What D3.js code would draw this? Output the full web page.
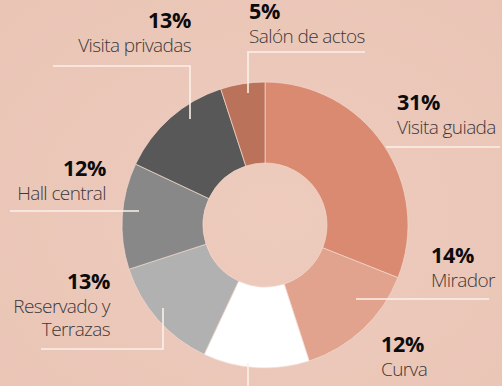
<!DOCTYPE html>
<html>
<head>
<meta charset="utf-8">
<script src="https://cdn.jsdelivr.net/npm/d3@7"></script>
<style>
  html, body { margin: 0; padding: 0; background: #ecc9ba; }
  svg { display: block; }
  .pct { font-family: "Open Sans", sans-serif; font-weight: 700; fill: #0c0c0c; }
  .lbl { font-family: "Open Sans", sans-serif; font-weight: 300; fill: #3e3838; }
</style>
</head>
<body>
<svg id="chart" width="502" height="386"></svg>
<script>
// Share of visits by area (percent), clockwise from 12 o'clock
const categories = ["Visita guiada", "Mirador", "Curva", "Reservado y Terrazas", "Hall central", "Visita privadas", "Salón de actos"];
const values = [31, 14, 12, 13, 12, 13, 5];
const sliceColors = ["#d98a71", "#e2a38e", "#ffffff", "#b1b1b1", "#888888", "#585858", "#bb725a"];

// Label text lines (the category name may wrap)
const labelLines = [["Visita guiada"], ["Mirador"], ["Curva"], ["Reservado y", "Terrazas"], ["Hall central"], ["Visita privadas"], ["Salón de actos"]];

// Label placement: anchor x, baseline of the percentage, text anchor
const labelLayout = [
  { x: 397, y: 110, anchor: "start" },
  { x: 431, y: 263, anchor: "start" },
  { x: 381, y: 352, anchor: "start" },
  { x: 110, y: 289, anchor: "end" },
  { x: 106, y: 176, anchor: "end" },
  { x: 191, y: 28,  anchor: "end" },
  { x: 249, y: 19,  anchor: "start" }
];

// Leader lines for each label
const leaders = [
  [[386, 147], [500, 147]],
  [[356, 299], [489, 299]],
  [[248, 363], [248, 390]],
  [[41, 349], [163, 349], [163, 308]],
  [[10, 211], [139, 211]],
  [[53, 66], [190, 66], [190, 119]],
  [[248, 93], [248, 52], [365, 52]]
];

const svg = d3.select("#chart");
const W = 502, H = 386;
const cx = 265, cy = 225, rOuter = 143, rInner = 62;

// Soft background wash
const defs = svg.append("defs");
const bg = defs.append("radialGradient").attr("id", "bg").attr("cx", "55%").attr("cy", "55%").attr("r", "75%");
bg.append("stop").attr("offset", "0%").attr("stop-color", "#edcbbd");
bg.append("stop").attr("offset", "100%").attr("stop-color", "#eac5b6");
svg.append("rect").attr("width", W).attr("height", H).attr("fill", "url(#bg)");

const pie = d3.pie().sort(null).value(d => d.value);
const arc = d3.arc().innerRadius(rInner).outerRadius(rOuter);
const data = categories.map((c, i) => ({ name: c, value: values[i], color: sliceColors[i] }));

const g = svg.append("g").attr("transform", `translate(${cx},${cy})`);
g.selectAll("path")
  .data(pie(data))
  .join("path")
  .attr("d", arc)
  .attr("fill", d => d.data.color)
  .attr("stroke", "#f2d8cd")
  .attr("stroke-width", 0.7);

// Leader lines
const line = d3.line();
svg.append("g").selectAll("path")
  .data(leaders)
  .join("path")
  .attr("d", d => line(d))
  .attr("fill", "none")
  .attr("stroke", "#fbf0ea")
  .attr("stroke-width", 1.6);

// Labels
const labels = svg.append("g").selectAll("g")
  .data(data)
  .join("g");

labels.append("text")
  .attr("class", "pct")
  .attr("x", (d, i) => labelLayout[i].x)
  .attr("y", (d, i) => labelLayout[i].y)
  .attr("text-anchor", (d, i) => labelLayout[i].anchor)
  .attr("font-size", 21.5)
  .attr("letter-spacing", -0.3)
  .text(d => `${d.value}%`);

// Category names: one text element per label, wrapped lines as tspans
labels.append("text")
  .attr("class", "lbl")
  .attr("text-anchor", (d, i) => labelLayout[i].anchor)
  .attr("font-size", 19)
  .attr("letter-spacing", -0.6)
  .each(function (d, i) {
    const L = labelLayout[i];
    labelLines[i].forEach((t, k) => {
      d3.select(this).append("tspan")
        .attr("x", L.x)
        .attr("y", L.y + 24 + k * 23)
        .text(t);
    });
  });
</script>
</body>
</html>
